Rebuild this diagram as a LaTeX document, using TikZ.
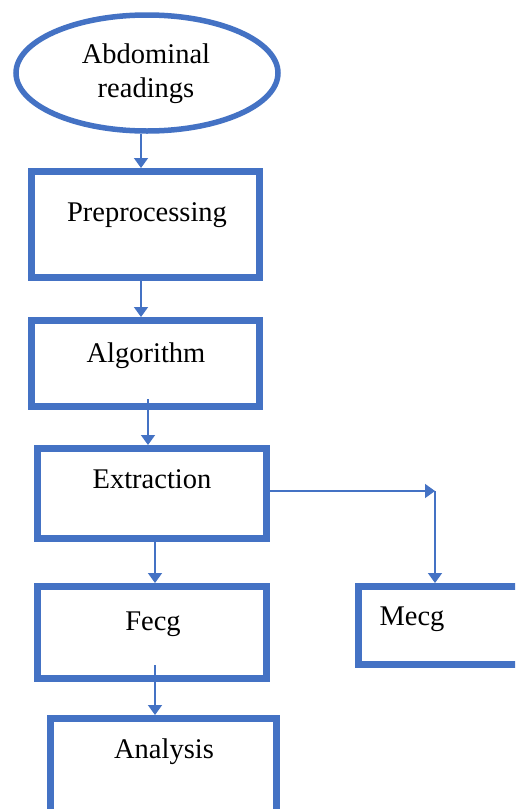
\documentclass[tikz,border=0pt]{standalone}
\usepackage{fontspec}
\setmainfont{Liberation Serif}
\usetikzlibrary{arrows.meta,shapes.geometric}
\definecolor{obl}{HTML}{4472C4}
\begin{document}
\begin{tikzpicture}[x=1pt,y=-1pt,
  box/.style={draw=obl,line width=7pt,rectangle,inner sep=0pt},
  oval/.style={draw=obl,line width=5.5pt,ellipse,inner sep=0pt},
  lbl/.style={anchor=base,font=\fontsize{28.5}{34}\selectfont,inner sep=0pt},
  arr/.style={draw=obl,line width=1.6pt,-{Triangle[width=14pt,length=10pt]}}]
\useasboundingbox (0,0) rectangle (515,809);
\clip (0,0) rectangle (515,809);
\fill[white] (0,0) rectangle (515,809);
% shapes
\node[oval,minimum width=262pt,minimum height=116pt] (ell) at (147,73) {};
\node[box,minimum width=228pt,minimum height=106pt] (pre) at (145.5,224.5) {};
\node[box,minimum width=228pt,minimum height=86pt] (alg) at (145.5,363.5) {};
\node[box,minimum width=229pt,minimum height=90pt] (ext) at (152,493.5) {};
\node[box,minimum width=229pt,minimum height=92pt] (fecg) at (152,632.5) {};
\node[box,minimum width=221pt,minimum height=78pt] (mecg) at (469,625.5) {};
\node[box,minimum width=226pt,minimum height=111pt] (ana) at (163.5,774) {};
% labels
\node[lbl] (t1) at (146,63) {Abdominal};
\node[lbl] (t2) at (146,97) {readings};
\node[lbl] (t3) at (147,221) {Preprocessing};
\node[lbl] (t4) at (146,362) {Algorithm};
\node[lbl] (t5) at (152,488) {Extraction};
\node[lbl] (t6) at (153,630) {Fecg};
\node[lbl] (t7) at (412,625) {Mecg};
\node[lbl] (t8) at (164,758) {Analysis};
% connector helpers
\coordinate (x1) at (141,0);
\coordinate (x3) at (148,399);
\coordinate (x4) at (155,0);
\coordinate (cm) at (435,491);
\coordinate (x6) at (155,665);
% connectors
\draw[arr] (ell.south -| x1) -- (pre.north -| x1);
\draw[arr] (pre.south -| x1) -- (alg.north -| x1);
\draw[arr] (x3) -- (ext.north -| x3);
\draw[arr] (ext.south -| x4) -- (fecg.north -| x4);
\draw[arr] (ext.east |- cm) -- (cm);
\draw[arr] (cm) -- (mecg.north -| cm);
\draw[arr] (x6) -- (ana.north -| x6);
\end{tikzpicture}
\end{document}
